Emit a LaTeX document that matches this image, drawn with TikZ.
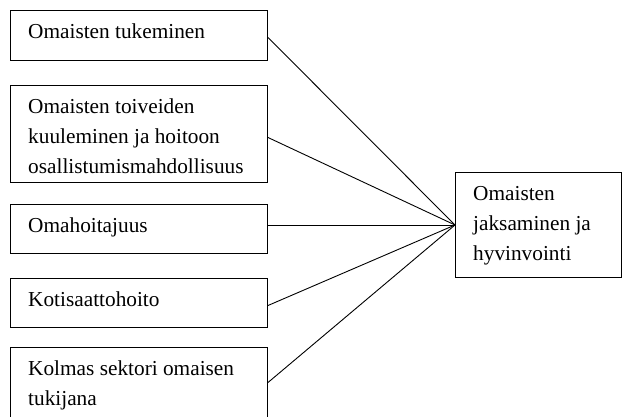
\documentclass[tikz,border=0pt]{standalone}
\usepackage{fontspec}
\setmainfont{Liberation Serif}
\newcommand{\firstl}{\rule{0pt}{28pt}}
\begin{document}
\begin{tikzpicture}[x=1pt,y=-1pt,
  box/.style={draw=black,line width=1pt,anchor=north west,inner sep=0pt,minimum width=257pt},
  lbl/.style={anchor=north west,inner sep=0pt,align=left,font=\fontsize{21.3}{30}\selectfont},
  conn/.style={draw=black,line width=0.9pt}]
\useasboundingbox (0,0) rectangle (622,417);
% left boxes
\node[box,minimum height=50pt] (b1) at (10,10) {};
\node[box,minimum height=97pt] (b2) at (10,85) {};
\node[box,minimum height=49pt] (b3) at (10,204) {};
\node[box,minimum height=49pt] (b4) at (10,278) {};
\node[box,minimum height=73pt] (b5) at (10,347) {};
% right box
\node[draw=black,line width=1pt,anchor=north west,inner sep=0pt,minimum width=166pt,minimum height=105pt] (rbox) at (455,172) {};
% labels
\node[lbl] (t1) at (28,10) {\firstl Omaisten tukeminen};
\node[lbl] (t2) at (28,85) {\firstl Omaisten toiveiden\\kuuleminen ja hoitoon\\osallistumismahdollisuus};
\node[lbl] (t3) at (28,204.5) {\firstl Omahoitajuus};
\node[lbl] (t4) at (28,278.5) {\firstl Kotisaattohoito};
\node[lbl] (t5) at (28,347) {\firstl Kolmas sektori omaisen\\tukijana};
\node[lbl] (t6) at (473,172) {\firstl Omaisten\\jaksaminen ja\\hyvinvointi};
% connectors
\coordinate (hub) at (rbox.west);
\draw[conn] ([yshift=-2pt]b1.east) -- (hub);
\draw[conn] ([yshift=-3.5pt]b2.east) -- (hub);
\draw[conn] (b3.east |- hub) -- (hub);
\draw[conn] ([yshift=-2.5pt]b4.east) -- (hub);
\draw[conn] ([yshift=1.5pt]b5.east) -- (hub);
\end{tikzpicture}
\end{document}
